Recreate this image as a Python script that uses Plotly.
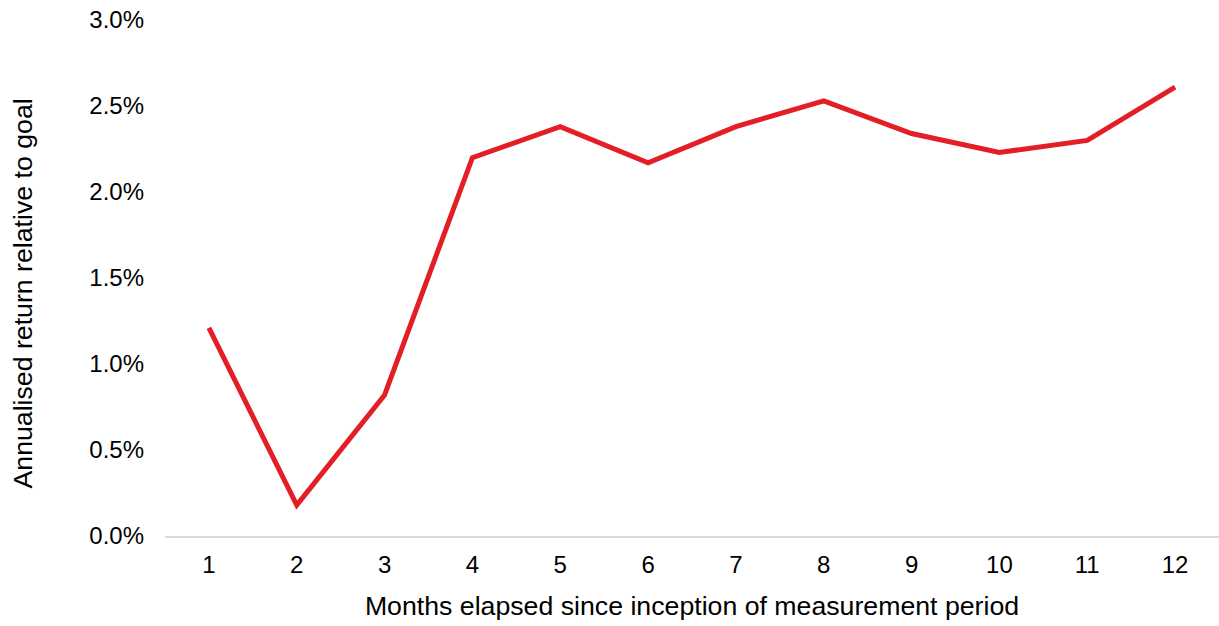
import plotly.graph_objects as go

# Months since inception and annualised return relative to goal (%)
months = ["1", "2", "3", "4", "5", "6", "7", "8", "9", "10", "11", "12"]
relative_return = [1.21, 0.18, 0.82, 2.20, 2.38, 2.17, 2.38, 2.53, 2.34, 2.23, 2.30, 2.61]
y_ticks = [0.0, 0.5, 1.0, 1.5, 2.0, 2.5, 3.0]
y_tick_labels = [f"{v:.1f}%" for v in y_ticks]

FONT = "Liberation Sans, Arial, sans-serif"
PLOT_LEFT = 165
PLOT_WIDTH = 1219 - PLOT_LEFT
TITLE_SIZE = 26.7

fig = go.Figure(
    go.Scatter(
        x=months,
        y=relative_return,
        mode="lines",
        line=dict(color="#E31E26", width=5),
        hoverinfo="skip",
    )
)

fig.update_layout(
    width=1219,
    height=626,
    margin=dict(l=PLOT_LEFT, r=0, t=20, b=90),
    plot_bgcolor="white",
    paper_bgcolor="white",
    showlegend=False,
    font=dict(family=FONT, size=24, color="#000000"),
)

fig.update_xaxes(
    type="category",
    range=[-0.5, 11.5],
    showgrid=False,
    showline=True,
    linecolor="#D9D9D9",
    linewidth=2,
    ticks="",
    ticklabelstandoff=6,
    tickfont=dict(size=24),
    title=dict(text="Months elapsed since inception of measurement period",
               font=dict(size=TITLE_SIZE), standoff=20),
)

fig.update_yaxes(
    range=[0, 3.0],
    tickvals=y_ticks,
    ticktext=y_tick_labels,
    showgrid=False,
    zeroline=False,
    showline=False,
    ticks="",
    ticklabelstandoff=20,
    tickfont=dict(size=24),
)

# Vertical axis title, centred slightly below the plot mid-height
fig.add_annotation(
    text="Annualised return relative to goal",
    textangle=-90,
    xref="paper", yref="paper",
    x=(22 - PLOT_LEFT) / PLOT_WIDTH,
    y=(536 - 293.5) / 516,
    xanchor="center", yanchor="middle",
    showarrow=False,
    font=dict(family=FONT, size=TITLE_SIZE, color="#000000"),
)

fig.write_html("out.html")
